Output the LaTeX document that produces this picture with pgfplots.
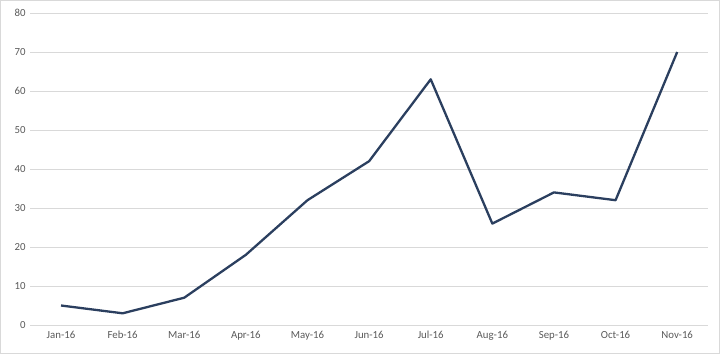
\documentclass[border=0pt]{standalone}
\usepackage{pgfplots}
\pgfplotsset{compat=1.18}
\usepackage{fontspec}
\setmainfont{Carlito}
\definecolor{lineblue}{HTML}{2B3F5F}
\definecolor{gridgrey}{HTML}{D9D9D9}
\definecolor{labgrey}{HTML}{595959}
\begin{document}
\begin{tikzpicture}
\draw[gridgrey, line width=1bp, use as bounding box] (0.5bp,0.5bp) rectangle (719.5bp,353.5bp);
\begin{axis}[
  at={(30.2bp,29bp)}, anchor=south west,
  scale only axis, width=677.8bp, height=312bp,
  xmin=-0.5, xmax=10.5, ymin=0, ymax=80,
  ytick={0,10,...,80},
  xtick={0,...,10},
  xticklabels={Jan-16,Feb-16,Mar-16,Apr-16,May-16,Jun-16,Jul-16,Aug-16,Sep-16,Oct-16,Nov-16},
  ymajorgrids, grid style={gridgrey, line width=0.8bp},
  axis line style={draw=none},
  tick style={draw=none},
  ticklabel style={font=\fontsize{10.8bp}{12bp}\selectfont, text=labgrey},
  /pgf/number format/assume math mode=true,
  yticklabel style={xshift=-1bp},
  xticklabel style={yshift=-2.5bp},
  clip=false,
]
\addplot[lineblue, line width=2.3bp, line join=round, mark=none] coordinates {
(0,5) (1,3) (2,7) (3,18) (4,32) (5,42) (6,63) (7,26) (8,34) (9,32) (10,70)
};
\end{axis}
\end{tikzpicture}
\end{document}
